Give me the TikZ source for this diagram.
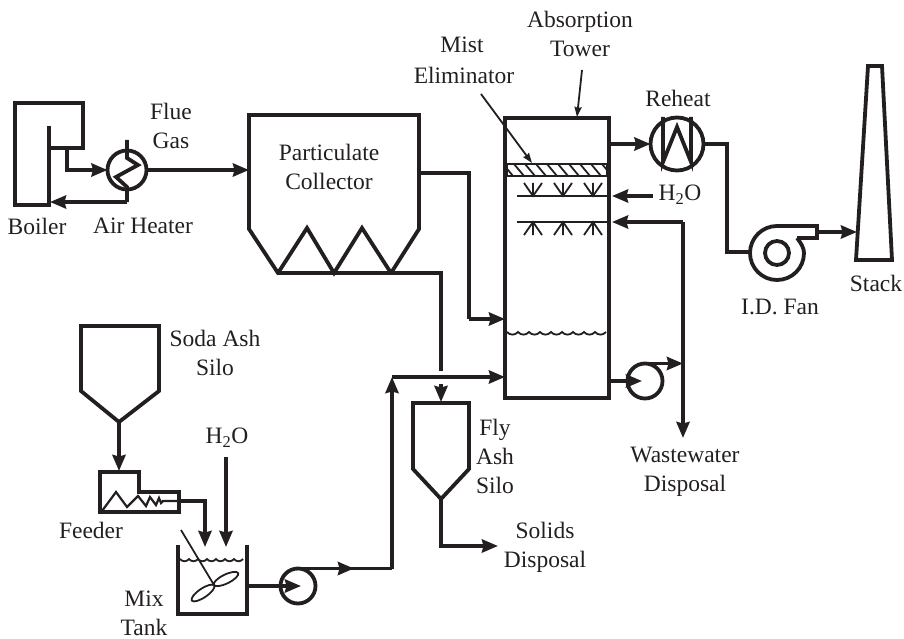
\documentclass[tikz,border=0pt]{standalone}
\usepackage{fontspec}
\setmainfont{Liberation Serif}
\usepackage{tikz}
\usetikzlibrary{arrows.meta,calc,shapes.geometric}
\definecolor{ink}{HTML}{231F20}

\begin{document}
\begin{tikzpicture}[
    x=1pt, y=-1pt,
    >={Stealth[length=16pt,width=13pt,inset=1.5pt]},
    font=\fontsize{23.5}{29}\selectfont,
    every node/.style={text=ink},
    unit/.style={draw=ink, line width=3.8pt, line join=miter},
    pipe/.style={draw=ink, line width=3.8pt},
    arr/.style={->, draw=ink, line width=3.8pt},
    fine/.style={draw=ink, line width=1.8pt},
    finearr/.style={fine, -{Stealth[length=10pt,width=7pt,inset=1pt]}},
    ring/.style={circle, draw=ink, line width=3.8pt, inner sep=0pt, outer sep=0pt, fill=white},
    lbl/.style={inner sep=0pt, align=center}
]
\useasboundingbox (0,0) rectangle (904,639);

% boiler and air heater
\draw[unit] (48.7,126) -- (48.7,205) -- (14.7,205) -- (14.7,102.7) -- (82.7,102.7) -- (82.7,148) -- (48.7,148);
\coordinate (boilerout) at (67,148);
\coordinate (boilerin) at (50,202);
\node[ring, minimum size=39pt] (heater) at (127,170) {};
\draw[unit] (127,140) -- (127,158) -- (138,165) -- (116,177) -- (127,187) -- (127,202) coordinate (heaterair);
\draw[arr] (heaterair) -- (boilerin);
\draw[arr] (boilerout) |- (heater.west);

% particulate collector
\draw[unit] (249,115) -- (419,115) -- (419,229) -- (391,273) -- (278,273) -- (249,229) -- cycle;
\draw[unit] (278,273) -- (307,228) -- (334,273) -- (362,228) -- (391,273);
\coordinate (collectorin) at (249,170);
\coordinate (collectorside) at (419,173);
\draw[arr] (heater.east) -- (collectorin);

% absorption tower
\node[draw=ink, line width=3.8pt, inner sep=0pt, outer sep=0pt, minimum width=104pt, minimum height=280pt] (tower) at (557,258) {};
\node[fine, inner sep=0pt, minimum width=100pt, minimum height=12pt] (mist) at (557,170) {};
\begin{scope}
\clip (mist.north west) rectangle (mist.south east);
\foreach \hx in {0,...,9}
    \draw[fine] (503+11*\hx,164) -- (513+11*\hx,176);
\end{scope}
\draw[fine] (tower.east |- 0,196) -- (517,196);
\draw[fine] (tower.east |- 0,222) -- (517,222);
\foreach \sx in {533,563,593} {
    \draw[fine] (\sx-9,183) -- (\sx,196) -- (\sx+9,183) (\sx,196) -- (\sx,183);
    \draw[fine] (\sx-9,235) -- (\sx,222) -- (\sx+9,235) (\sx,222) -- (\sx,235);
}
\draw[fine] (507,332) \foreach \wx in {1,...,9} { .. controls +(3,3.5) and +(-3,3.5) .. ++(11,0) };

% soda ash silo, feeder, mix tank
\draw[unit] (81,326) -- (159,326) -- (159,391) -- (119,422) -- (81,391) -- cycle;
\coordinate (sodaout) at (119,422);
\draw[unit] (100,472) -- (139,472) -- (139,492) -- (179,492) -- (179,512) -- (100,512) -- cycle;
\coordinate (feederin) at (119,471);
\coordinate (feederout) at (179,501);
\draw[fine, line width=2.2pt] (102,511) -- (116,492) -- (127,507) -- (138,496) -- (146,506) -- (150,497) -- (156,505) -- (159,498) -- (161,503) -- (163,501) -- (feederout);
\draw[arr] (sodaout) -- (feederin);
\draw[unit] (178,545) -- (178,614) -- (247,614) -- (247,545);
\draw[fine] (180,559) \foreach \wx in {1,...,7} { .. controls +(2.5,3) and +(-2.5,3) .. ++(9,0) };
\draw[fine] (181,530) -- (214,585);
\node[draw=ink, line width=1.8pt, ellipse, inner sep=0pt, minimum width=27pt, minimum height=9pt, rotate=26] (bladea) at (226,579) {};
\node[draw=ink, line width=1.8pt, ellipse, inner sep=0pt, minimum width=27pt, minimum height=9pt, rotate=34] (bladeb) at (203,593) {};
\coordinate (tankina) at (205,547);
\coordinate (tankinb) at (226,547);
\draw[arr] (feederout) -| (tankina);
\node[lbl] (watera) at (227,438) {H\textsubscript{2}O};
\draw[arr] (226,457) -- (tankinb);

% slurry pump
\coordinate (tankout) at (248,586);
\node[ring, minimum size=35pt] (pumpa) at (298,586) {};
\draw[arr] (tankout) -- (301,586);
\coordinate (riser) at (392,568.5);
\coordinate (riserjoin) at (392,377);
\draw[arr] (pumpa.north) -- (354,568.5);
\draw[pipe] (pumpa.north) -- (riser);
\draw[arr] (riser) -- (riserjoin);
\draw[arr] (riserjoin) -- (tower.west |- riserjoin);

% fly ash silo
\draw[unit] (413,403) -- (469,403) -- (469,469) -- (441,499) -- (413,469) -- cycle;
\coordinate (flyin) at (441,402);
\coordinate (flyout) at (441,499);
\coordinate (solids) at (498,546);
\draw[arr] (flyout) |- (solids);
\draw[pipe] (391,273) -- (441,273) -- (441,371);
\draw[arr] (441,384) -- (flyin);
\draw[pipe] (collectorside) -- (469,173) -- (469,319);
\draw[arr] (469,319) -- (tower.west |- 0,319);

% reheat, fan, stack
\node[ring, minimum size=53pt] (reheat) at (677,144) {};
\draw[unit] (663,117) -- (663,162) -- (677,127) -- (691,162) -- (691,117);
\draw[arr] (tower.east |- reheat) -- (reheat.west);
\node[ring, minimum size=24pt] (fanhub) at (777,253) {};
\draw[unit] (797,238) -- (817,238) -- (817,226) -- (777,226) arc[start angle=90, end angle=270, radius=27pt] .. controls (792,280) and (804,268) .. (804,253) .. controls (804,248) and (801,243) .. (797,238);
\draw[pipe] (reheat.east) -- (727,144) -- (727,252) -- (750,252);
\coordinate (fanout) at (817,232);
\draw[unit] (856,260) -- (892,260) -- (882,66) -- (868,66) -- cycle;
\coordinate (stackin) at (857,232);
\draw[arr] (fanout) -- (stackin);

% tower connections
\node[lbl] (waterb) at (680,195) {H\textsubscript{2}O};
\draw[arr] (653,196) -- (612,196);
\coordinate (recycle) at (683,222);
\coordinate (waste) at (683,438);
\draw[arr] (recycle) -- (612,222);
\draw[arr] (recycle) -- (waste);
\node[ring, minimum size=35pt] (pumpb) at (645,381) {};
\draw[arr] (tower.east |- pumpb) -- (642,381);
\draw[arr] (pumpb.north) -- (683,363.5);

% labels
\node[lbl] (boilertext) at (37,226) {Boiler};
\node[lbl] (heatertext) at (143,226) {Air Heater};
\node[lbl] (fluetext) at (171,126) {Flue\\Gas};
\node[lbl] (collectortext) at (329,167) {Particulate\\Collector};
\node[lbl] (misttext) at (462,45) {Mist};
\node[lbl] (elimtext) at (464,75) {Eliminator};
\node[lbl] (towertext) at (580,34) {Absorption\\Tower};
\node[lbl] (reheattext) at (678,98) {Reheat};
\node[lbl] (stacktext) at (876,283) {Stack};
\node[lbl] (fantext) at (780,307) {I.D. Fan};
\node[lbl] (sodatext) at (215,353) {Soda Ash\\Silo};
\node[lbl] (feedertext) at (91,530) {Feeder};
\node[lbl] (tanktext) at (144,613) {Mix\\Tank};
\node[lbl] (flytext) at (495,456) {Fly\\Ash\\Silo};
\node[lbl] (solidstext) at (545,547) {Solids\\Disposal};
\node[lbl] (wastetext) at (685,472) {Wastewater\\Disposal};

% pointers
\draw[finearr] (481,94) -- (532,163);
\draw[finearr] (582,70) -- (577,117);

\end{tikzpicture}
\end{document}
